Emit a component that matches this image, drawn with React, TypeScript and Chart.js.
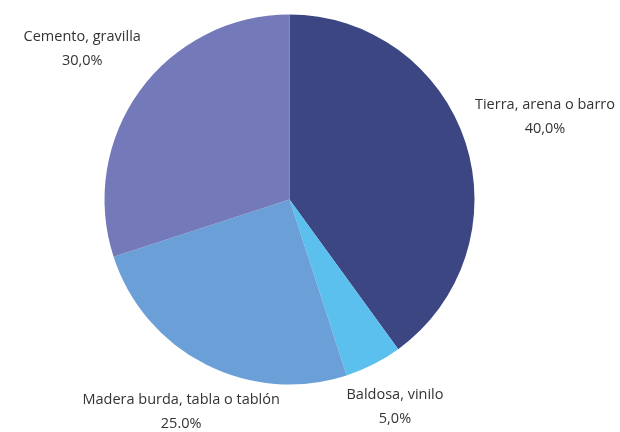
import React, { useEffect, useRef } from "react";
import { Chart, registerables } from "chart.js";

Chart.register(...registerables);

const categories = [
  "Tierra, arena o barro",
  "Baldosa, vinilo",
  "Madera burda, tabla o tablón",
  "Cemento, gravilla",
];
const values = [40, 5, 25, 30];
const valueLabels = ["40,0%", "5,0%", "25.0%", "30,0%"];
const colors = ["#3c4682", "#5bc0ed", "#6b9fd7", "#7479ba"];
const labelDistance = [1.452, 1.256, 1.29, 1.385];

const labelPlugin = {
  id: "outerLabels",
  afterDraw(chart: any) {
    const ctx = chart.ctx;
    const meta = chart.getDatasetMeta(0);
    ctx.save();
    ctx.font = '14.5px "Open Sans", sans-serif';
    ctx.fillStyle = "#333333";
    ctx.textAlign = "center";
    ctx.textBaseline = "middle";
    meta.data.forEach((arc: any, i: number) => {
      const mid = (arc.startAngle + arc.endAngle) / 2;
      const d = arc.outerRadius * labelDistance[i];
      const x = arc.x + Math.cos(mid) * d;
      const y = arc.y + Math.sin(mid) * d;
      ctx.fillText(categories[i], x, y - 12);
      ctx.fillText(valueLabels[i], x, y + 12);
    });
    ctx.restore();
  },
};

export default function App() {
  const ref = useRef<HTMLCanvasElement>(null);
  useEffect(() => {
    if (!ref.current) return;
    const chart = new Chart(ref.current, {
      type: "pie",
      data: {
        labels: categories,
        datasets: [
          {
            data: values,
            backgroundColor: colors,
            borderWidth: 0,
          },
        ],
      },
      options: {
        animation: false,
        responsive: true,
        maintainAspectRatio: false,
        layout: { padding: { top: 14.5, bottom: 47.5, left: 104.5, right: 145.5 } },
        plugins: {
          legend: { display: false },
          tooltip: { enabled: false },
        },
      },
      plugins: [labelPlugin],
    });
    return () => chart.destroy();
  }, []);
  return (
    <div style={{ position: "fixed", left: 0, top: 0, width: 620, height: 432, background: "#fff" }}>
      <canvas ref={ref} />
    </div>
  );
}
